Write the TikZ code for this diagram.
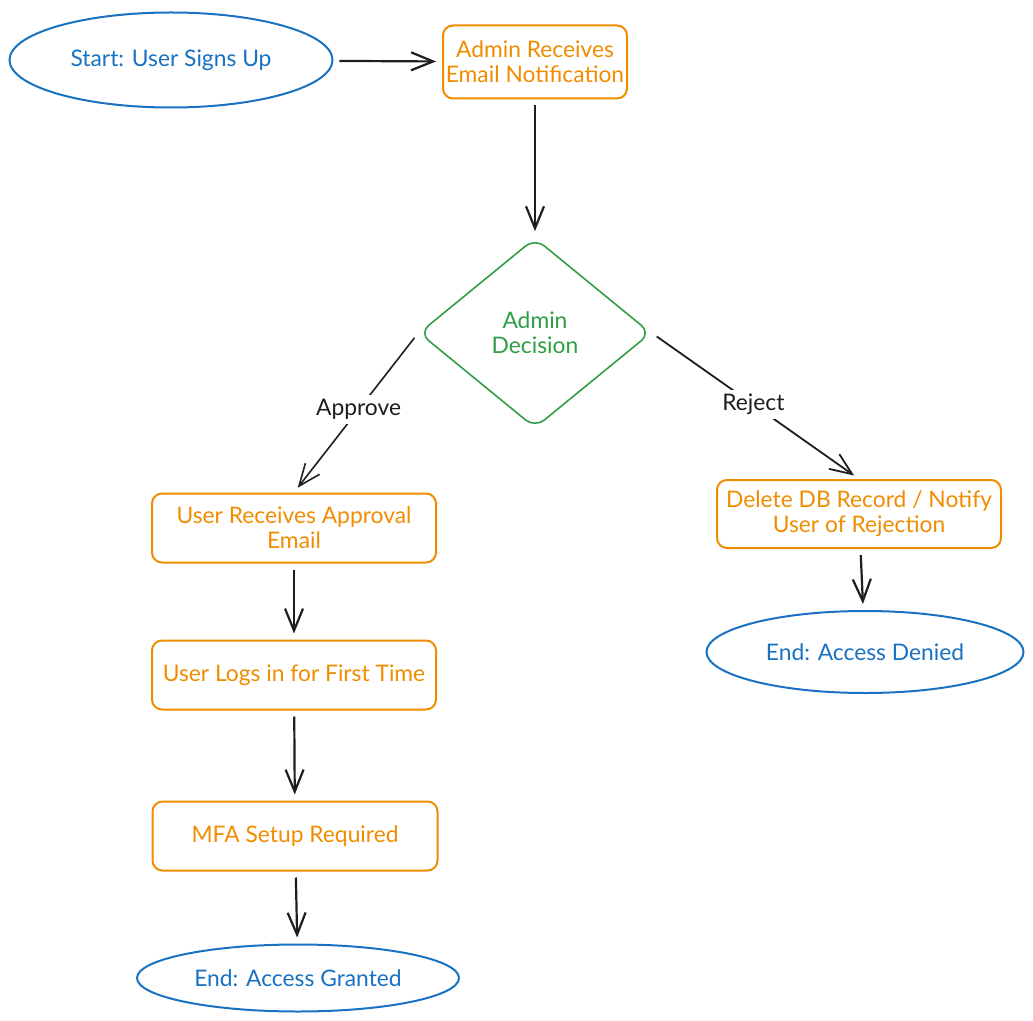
\documentclass[tikz,border=0pt]{standalone}
\usepackage{fontspec}
\setmainfont{Lato}
\usetikzlibrary{shapes.geometric,arrows.meta}
\definecolor{exblue}{HTML}{1971C2}
\definecolor{exorange}{HTML}{F08C00}
\definecolor{exgreen}{HTML}{2F9E44}
\definecolor{exink}{HTML}{1E1E1E}
\begin{document}
\begin{tikzpicture}[x=0.5pt, y=-0.5pt,
	every node/.style={font=\fontsize{11.4}{12.5}\selectfont, align=center},
	terminal/.style={ellipse, draw=exblue, text=exblue, line width=1pt, inner sep=0pt},
	process/.style={rectangle, rounded corners=5pt, draw=exorange, text=exorange, line width=1pt, minimum width=142pt, minimum height=34.5pt, inner sep=0pt},
	choice/.style={diamond, rounded corners=6pt, draw=exgreen, text=exgreen, line width=0.8pt, minimum width=116pt, minimum height=95pt, inner sep=0pt},
	arr/.style={draw=exink, line width=1.1pt, -{Straight Barb[length=11pt,width=9pt]}, shorten >=3pt, shorten <=3pt},
	lbl/.style={fill=white, text=exink, inner sep=2pt}]
	\useasboundingbox (0,0) rectangle (1033,1021);
	
	\node[terminal, minimum width=161.5pt, minimum height=47.5pt] (start) at (171,60) {Start: User Signs Up};
	\node[process, minimum width=92pt, minimum height=36.5pt] (notify) at (535,62) {Admin Receives\\Email Notification};
	\node[choice] (decision) at (535,333) {Admin\\Decision};
	
	\node[process] (approval) at (294,528) {User Receives Approval\\Email};
	\node[process] (login) at (294,675) {User Logs in for First Time};
	\node[process, minimum width=142.5pt] (mfa) at (295,836) {MFA Setup Required};
	\node[terminal, minimum width=161pt, minimum height=33.5pt] (granted) at (298,978) {End: Access Granted};
	
	\node[process, minimum height=34pt] (reject) at (859,514) {Delete DB Record / Notify\\User of Rejection};
	\node[terminal, minimum width=158.5pt, minimum height=41pt] (denied) at (865,652) {End: Access Denied};
	
	\draw[arr] (start) -- (notify);
	\draw[arr] (notify) -- (decision);
	\draw[arr, line width=0.8pt] (decision.west) -- node[lbl, pos=0.48] {Approve} (approval.north);
	\draw[arr, line width=0.9pt] (decision.east) -- node[lbl, pos=0.49] {Reject} (reject.north);
	\draw[arr] (approval) -- (login);
	\draw[arr] (login) -- (mfa);
	\draw[arr] (mfa) -- (granted);
	\draw[arr] (reject) -- (denied);
	
\end{tikzpicture}
\end{document}
